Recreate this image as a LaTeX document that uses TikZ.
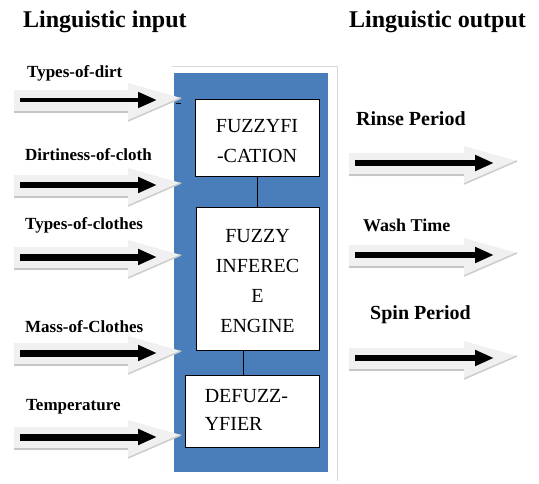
\documentclass[tikz,border=0pt]{standalone}
\usepackage{fontspec}
\setmainfont{Liberation Serif}
\usetikzlibrary{arrows.meta}
\definecolor{blk}{RGB}{74,126,187}
\begin{document}
\begin{tikzpicture}[x=1pt,y=-1pt,
  head/.style={font=\bfseries\fontsize{24}{26}\selectfont,anchor=west,inner sep=0},
  lab/.style={font=\bfseries\fontsize{17}{19}\selectfont,anchor=west,inner sep=0},
  boxf/.style={draw=black,line width=0.8pt,fill=white,inner sep=0},
  boxt/.style={font=\fontsize{20}{30}\selectfont,align=center,inner sep=0},
  shadowfill/.style={fill=gray!12},
  shadowline/.style={draw=gray!45,line width=2pt},
  blackarrow/.style={line width=#1,-{Triangle[length=19pt,width=15pt]}},
  link/.style={line width=0.8pt}
]
\useasboundingbox (0,0) rectangle (539,483);
% frame and block
\draw[gray!30,line width=1pt] (172,66) -- (337,66) -- (337,481);
\fill[blk] (174,73) rectangle (328,472);
\draw[black,line width=0.8pt] (176,103) -- (181,103);
% boxes
\node[boxf,minimum width=124,minimum height=77] (fz) at (257,137.5) {};
\node[boxt] (fzt) at ([yshift=-4pt]fz.center) {FUZZYFI\\-CATION};
\node[boxf,minimum width=123,minimum height=143] (ie) at (257.5,278.5) {};
\node[boxt] (iet) at ([yshift=-2.5pt]ie.center) {FUZZY\\INFEREC\\E\\ENGINE};
\node[boxf,minimum width=134,minimum height=72] (df) at (252,411) {};
\node[boxt,align=left,font=\fontsize{20}{28}\selectfont,anchor=west] (dft) at ([xshift=20pt,yshift=1pt]df.west) {DEFUZZ-\\YFIER};
\draw[link] (fz.south) -- (fz.south |- ie.north);
\draw[link] (243,350) -- (243,375);
% headings
\node[head] (hin) at (23,22) {Linguistic input};
\node[head] (hout) at (349,22) {Linguistic output};
% input arrows
\foreach \c/\w/\n in {100/4.5pt/a, 185/5.5pt/b, 257/7pt/c, 353/7pt/d, 437/7pt/e}{
  \fill[shadowfill] (14,\c-10) -- (128,\c-10) -- (128,\c-17) -- (181,\c-2) -- (128,\c+21) -- (128,\c+13) -- (14,\c+13) -- cycle;
  \draw[shadowline] (14,\c+12) -- (128,\c+12);
  \draw[gray!40,line width=1.5pt] (128,\c+21) -- (181,\c-2);
  \coordinate (s\n) at (20,\c);
  \coordinate (t\n) at (157,\c);
  \draw[blackarrow=\w] (s\n) -- (t\n);
}
\node[lab] (la) at (27,73) {Types-of-dirt};
\node[lab] (lb) at (25,155) {Dirtiness-of-cloth};
\node[lab] (lc) at (25,225) {Types-of-clothes};
\node[lab] (ld) at (25,327) {Mass-of-Clothes};
\node[lab] (le) at (26,407) {Temperature};
% output arrows
\foreach \c/\n in {163/o1, 255/o2, 358/o3}{
  \fill[shadowfill] (349,\c-10) -- (464,\c-10) -- (464,\c-17) -- (517,\c-2) -- (464,\c+21) -- (464,\c+13) -- (349,\c+13) -- cycle;
  \draw[shadowline] (349,\c+12) -- (464,\c+12);
  \draw[gray!40,line width=1.5pt] (464,\c+21) -- (517,\c-2);
  \coordinate (s\n) at (355,\c);
  \coordinate (t\n) at (494,\c);
  \draw[blackarrow=6pt] (s\n) -- (t\n);
}
\node[lab,font=\bfseries\fontsize{20}{22}\selectfont] (r1) at (356,119) {Rinse Period};
\node[lab,font=\bfseries\fontsize{18}{20}\selectfont] (r2) at (363,225) {Wash Time};
\node[lab,font=\bfseries\fontsize{20}{22}\selectfont] (r3) at (370,315) {Spin Period};
\end{tikzpicture}
\end{document}
